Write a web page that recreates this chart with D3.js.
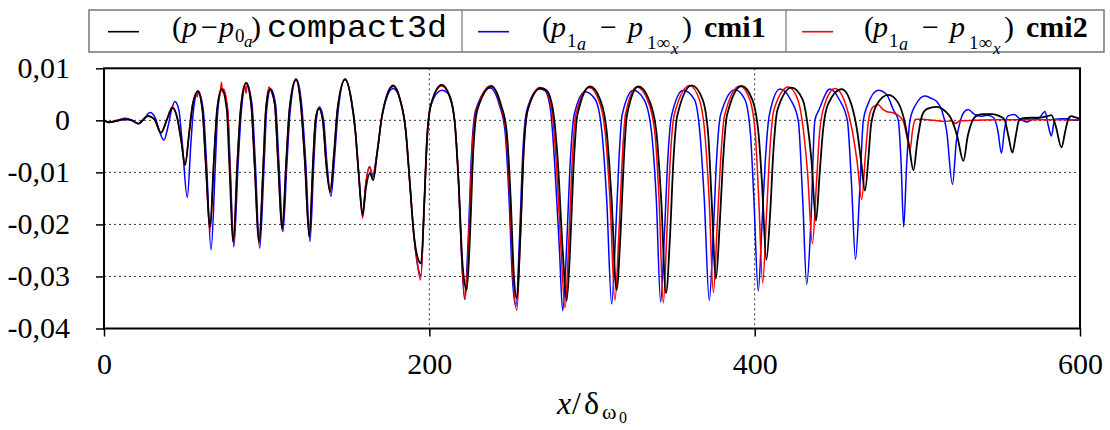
<!DOCTYPE html>
<html>
<head>
<meta charset="utf-8">
<script src="https://cdn.jsdelivr.net/npm/d3@7"></script>
<style>
  html, body { margin: 0; padding: 0; background: #fff; }
  svg { display: block; }
  .serif { font-family: "Liberation Serif", "Times New Roman", Times, "DejaVu Serif", serif; }
  .mono { font-family: "Liberation Mono", "Courier New", Courier, "DejaVu Sans Mono", monospace; }
</style>
</head>
<body>
<svg id="chart" width="1110" height="430"></svg>
<script>
// ---------------- data ----------------
const xTickValues = [0, 200, 400, 600];
const xTickLabels = ["0", "200", "400", "600"];
const yTickValues = [0.01, 0, -0.01, -0.02, -0.03, -0.04];
const yTickLabels = ["0,01", "0", "-0,01", "-0,02", "-0,03", "-0,04"];
const xGridValues = [200, 400];
const yGridValues = [0, -0.01, -0.02, -0.03];

// (p - p0a) compact3d  (black)
const compact3d = [
  [0,0],[3,-0.0004],[8,-0.0001],[13,0.0002],[17,0.0],[21,-0.0006],[27,0.0008],[31,0.0002],
  [35,-0.0024],[38.5,0.0],[42,0.0024],[45,0.0005],[47.5,-0.004],[49.8,-0.0086],[52.5,-0.002],
  [54.5,0.003],[57.6,0.0055],[60.5,0.002],[62.5,-0.008],[65.2,-0.0205],[67.5,-0.008],[69.5,0.002],
  [72.3,0.006],[75.5,0.002],[77,-0.008],[79.5,-0.0233],[82,-0.008],[84,0.002],[87.3,0.0072],
  [90.5,0.003],[92.5,-0.008],[95.3,-0.0233],[98,-0.008],[99.5,0.002],[102,0.006],[105,0.003],
  [107,-0.008],[109.6,-0.0208],[112,-0.008],[114,0.002],[118,0.0079],[121,0.003],[123.5,-0.008],
  [126.2,-0.0224],[128.5,-0.008],[130,0.0],[132.1,0.0023],[134.5,0.0],[136.5,-0.008],[139,-0.0138],
  [141.5,-0.006],[143.5,0.002],[148.2,0.0079],[152,0.004],[154.5,-0.002],[156.5,-0.01],[159,-0.0182],
  [161,-0.013],[163.5,-0.0102],[165.5,-0.0115],[168,-0.006],[171,0.001],[177.8,0.0066],[182,0.004],
  [185.5,-0.002],[188,-0.012],[190.5,-0.022],[192.2,-0.0256],[194.9,-0.0275],[197,-0.015],[198.5,-0.004],
  [201,0.003],[207.6,0.0068],[212,0.005],[215.5,0.0],[218,-0.012],[220.5,-0.028],[223,-0.0326],
  [225,-0.022],[227,-0.006],[229.5,0.002],[238.3,0.0065],[244,0.003],[247.5,-0.002],[250,-0.015],
  [252,-0.03],[253.7,-0.0342],[256,-0.022],[258,-0.006],[260.5,0.002],[268.5,0.0062],[272,0.0058],
  [276,0.002],[279,-0.008],[282,-0.025],[284.4,-0.0347],[286.5,-0.025],[288.5,-0.01],[291,0.001],
  [298.8,0.0065],[305,0.004],[309,-0.002],[312,-0.015],[315.1,-0.0326],[317.5,-0.022],[319.5,-0.008],
  [321.5,0.001],[328.5,0.0065],[335,0.004],[339.5,-0.002],[342.5,-0.015],[345.5,-0.0332],[348,-0.022],
  [350,-0.008],[352.5,0.001],[361.3,0.0067],[368,0.004],[371.5,-0.003],[373.5,-0.015],[376.2,-0.0304],
  [378.5,-0.02],[380.5,-0.008],[383,0.001],[392,0.0066],[398.5,0.004],[402.5,-0.003],[404.5,-0.012],
  [407.2,-0.0268],[409.5,-0.018],[411.5,-0.006],[414,0.002],[422.7,0.0063],[429.5,0.004],[433,-0.002],
  [435,-0.008],[437.7,-0.0193],[440,-0.01],[442,-0.002],[445,0.003],[453.5,0.006],[459.5,0.003],
  [463,-0.002],[465.5,-0.008],[467.8,-0.0135],[470,-0.007],[471.5,-0.001],[475,0.003],[482.2,0.0049],
  [488,0.0035],[492,0.0],[495,-0.005],[497.6,-0.0096],[500,-0.004],[503,0.001],[506,0.0022],
  [511.9,0.0026],[517,0.0018],[521,0.0002],[524.5,-0.003],[528.3,-0.0078],[531,-0.003],[534,0.0],
  [537,0.001],[540.6,0.0012],[546,0.0012],[550.5,0.0008],[553.5,0.0002],[556,-0.003],[558.4,-0.0062],
  [560.5,-0.003],[562.5,0.0],[565.1,0.0004],[570,0.0005],[575,0.0005],[580,0.0008],[582.4,0.001],
  [585,-0.001],[588.6,-0.0052],[591,-0.002],[593,0.0004],[594.7,0.0008],[597,0.0006],[600,0.0003]
];

// (p1a - p1inf x) cmi1  (blue)
const cmi1 = [
  [0,0],[3,-0.0003],[8,0.0],[13,0.0004],[17,0.0001],[21,-0.0007],[24.5,0.0002],[28.3,0.0015],
  [31.5,0.0005],[34,-0.002],[36.8,-0.0038],[39.5,-0.001],[41.5,0.002],[43.6,0.0036],[46,0.002],
  [48,-0.004],[51.2,-0.0148],[53.5,-0.004],[55,0.002],[57.8,0.0057],[61,0.002],[63,-0.008],
  [65.8,-0.0249],[68.5,-0.008],[70,0.002],[72.5,0.006],[76,0.002],[77.5,-0.008],[79.8,-0.0243],
  [82.5,-0.008],[84.5,0.002],[87.5,0.0072],[91,0.003],[93,-0.008],[95.7,-0.0246],[98.5,-0.008],
  [100,0.002],[102.5,0.006],[105.5,0.003],[107.5,-0.008],[110,-0.0214],[112.5,-0.008],[114.5,0.002],
  [118.3,0.0079],[121.5,0.003],[124,-0.008],[126.6,-0.0233],[129,-0.008],[130.5,0.0],[132.4,0.0026],
  [135,0.0],[137,-0.008],[139.5,-0.0146],[142,-0.006],[144,0.002],[148.2,0.0079],[152,0.004],
  [154.5,-0.002],[156.5,-0.01],[159,-0.0178],[161,-0.012],[163.3,-0.0089],[165.2,-0.0105],[168,-0.006],
  [171,0.001],[177.8,0.0061],[182,0.004],[185.5,-0.002],[188,-0.012],[190.5,-0.022],[193.5,-0.029],
  [194.8,-0.0298],[197,-0.015],[198.5,-0.004],[201,0.003],[207.6,0.0058],[212,0.005],[215.5,0.0],
  [218,-0.012],[219.8,-0.026],[221.7,-0.0344],[224,-0.022],[226,-0.006],[228.5,0.002],[237.5,0.0062],
  [243,0.003],[246.5,-0.002],[249,-0.015],[251,-0.03],[253.3,-0.0358],[255.5,-0.022],[257.5,-0.006],
  [260,0.002],[267.5,0.006],[271,0.0057],[274.5,0.002],[277,-0.008],[280,-0.025],[282,-0.0366],
  [284.3,-0.025],[286.3,-0.01],[289,0.001],[295.7,0.0055],[302,0.004],[306,-0.002],[309,-0.015],
  [312.1,-0.0353],[314.5,-0.022],[316.5,-0.008],[318.5,0.001],[325.4,0.0058],[332,0.004],
  [336.5,-0.002],[339.5,-0.015],[342.2,-0.0349],[344.5,-0.022],[346.5,-0.008],[349,0.001],
  [356.1,0.0058],[363,0.004],[366.5,-0.003],[369,-0.015],[372.1,-0.0346],[374.5,-0.022],[376.5,-0.008],
  [379,0.001],[387.9,0.0059],[394,0.004],[397.5,-0.003],[399.5,-0.015],[402.2,-0.0328],[404.5,-0.02],
  [406.5,-0.008],[409,0.001],[415.6,0.006],[422,0.004],[426.8,0.0],[429.5,-0.015],[432,-0.0315],
  [434.5,-0.02],[437,0.0],[439.5,0.002],[446.3,0.006],[452,0.004],[457,0.0],[459.5,-0.012],
  [462,-0.0267],[464.5,-0.014],[466.8,0.0],[469.5,0.003],[476,0.0058],[481,0.005],[485.3,0.002],
  [488.3,0.0],[490,-0.008],[491.6,-0.0205],[493.5,-0.008],[495.5,0.0],[499,0.003],[504.7,0.0047],
  [508,0.0043],[512,0.0036],[515,0.002],[518,-0.002],[521.6,-0.0123],[524,-0.004],[526.5,0.0],
  [528.5,0.0015],[531.2,0.0021],[535,0.0012],[539,0.0008],[543,0.001],[547,0.0005],[549.5,-0.002],
  [551.7,-0.0063],[553.5,-0.002],[555.5,0.0008],[559.5,0.0011],[563,0.0003],[567,-0.0003],
  [571,0.0002],[575,0.0005],[578.5,0.0017],[580.5,-0.001],[582.4,-0.003],[584.5,0.0002],[588,0.0003],
  [592,0.0003],[596,0.0],[600,0.0]
];

// (p1a - p1inf x) cmi2  (red)
const cmi2 = [
  [0,0],[3,-0.0004],[8,-0.0001],[13,0.0002],[17,0.0],[21,-0.0006],[27,0.0009],[31,0.0002],
  [35,-0.0024],[38.5,0.0],[42,0.0026],[45,0.0005],[47.5,-0.004],[49.8,-0.0084],[52.5,-0.002],
  [54.5,0.003],[56.8,0.005],[57.3,0.0045],[58,0.0055],[60.5,0.002],[62.5,-0.008],[65.2,-0.0215],
  [67.5,-0.008],[69.5,0.002],[71.6,0.0056],[72.2,0.0073],[72.8,0.0054],[73.5,0.006],[76,0.002],
  [77.3,-0.008],[79.7,-0.0238],[82,-0.008],[84,0.002],[86.5,0.0068],[87.3,0.0052],[88,0.0068],
  [90.5,0.003],[92.5,-0.008],[95.3,-0.0238],[98,-0.008],[99.5,0.002],[101.5,0.0064],[102.5,0.0058],
  [105,0.003],[107,-0.008],[109.6,-0.0213],[112,-0.008],[114,0.002],[118,0.0077],[121,0.003],
  [123.5,-0.008],[126.2,-0.0222],[128.5,-0.008],[130,0.0],[132.1,0.0023],[134.5,0.0],[136.5,-0.008],
  [139,-0.0136],[141.5,-0.006],[143.5,0.002],[148.2,0.0078],[152,0.004],[154.5,-0.002],[156.5,-0.01],
  [159,-0.0188],[161,-0.012],[163.2,-0.0089],[165.2,-0.011],[168,-0.006],[171,0.001],[177.8,0.0068],
  [182,0.004],[185.5,-0.002],[188,-0.012],[190.5,-0.022],[192.5,-0.027],[194.6,-0.0307],[196.8,-0.017],
  [198.5,-0.004],[201,0.003],[207.6,0.0066],[212,0.005],[215.5,0.0],[218,-0.012],[220,-0.027],
  [222,-0.0344],[224.3,-0.022],[226.3,-0.006],[229,0.002],[238,0.0067],[243.5,0.003],[247,-0.002],
  [249.5,-0.015],[251.5,-0.03],[253.8,-0.0365],[256,-0.022],[258,-0.006],[260.5,0.002],[268,0.0063],
  [271.5,0.0058],[275.3,0.002],[278,-0.008],[281,-0.025],[283.4,-0.036],[285.5,-0.025],[287.5,-0.01],
  [290,0.001],[298.3,0.0063],[304,0.004],[308,-0.002],[311,-0.015],[314.1,-0.0346],[316.5,-0.022],
  [318.5,-0.008],[320.5,0.001],[327.5,0.0064],[334,0.004],[338.5,-0.002],[341.2,-0.015],[343.8,-0.0351],
  [346,-0.022],[348,-0.008],[350.5,0.001],[360,0.0067],[366,0.004],[369.5,-0.003],[372,-0.015],
  [374.6,-0.0331],[377,-0.02],[379,-0.008],[381.5,0.001],[390.9,0.0066],[397,0.004],[400.5,-0.003],
  [402.5,-0.015],[404.9,-0.0313],[407.3,-0.018],[409.3,-0.006],[411.8,0.002],[420.7,0.0064],
  [426.5,0.004],[430,-0.002],[432.5,-0.01],[435.5,-0.0237],[438,-0.012],[440,-0.002],[443,0.003],
  [449.4,0.0061],[456,0.003],[460,-0.002],[463,-0.008],[465.8,-0.0152],[468,-0.007],[470,0.0],
  [472.5,0.0025],[476,0.003],[478.5,0.0022],[481,0.0017],[485.3,0.0014],[489.3,0.0007],[492,-0.0008],
  [493.5,-0.003],[495.5,-0.0057],[497,-0.002],[499,0.0002],[503,0.0002],[510,0.0],[517,-0.0002],
  [521,-0.0001],[523.5,-0.0006],[526,-0.0001],[535,0.0],[550,0.0001],[570,0.0001],[585,0.0001],[600,0.0001]
];

// ---------------- drawing ----------------
const svg = d3.select("#chart");

const x = d3.scaleLinear().domain([0, 600]).range([104, 1080]);
const y = d3.scaleLinear().domain([-0.04, 0.01]).range([328.5, 68.3]);

// grid
svg.append("g").selectAll("line").data(yGridValues).join("line")
  .attr("x1", x(0)).attr("x2", x(600))
  .attr("y1", d => y(d)).attr("y2", d => y(d))
  .attr("stroke", "#333").attr("stroke-width", 1).attr("stroke-dasharray", "2,3");
svg.append("g").selectAll("line").data(xGridValues).join("line")
  .attr("y1", y(0.01)).attr("y2", y(-0.04))
  .attr("x1", d => x(d)).attr("x2", d => x(d))
  .attr("stroke", "#333").attr("stroke-width", 1).attr("stroke-dasharray", "2,3");

// axes
const yAxis = d3.axisLeft(y).tickValues(yTickValues).tickSizeInner(8).tickSizeOuter(0)
  .tickPadding(26).tickFormat((d, i) => yTickLabels[i]);
const gy = svg.append("g").attr("transform", `translate(${x(0)},0)`).call(yAxis)
  .attr("font-family", null).attr("font-size", null).attr("class", "serif");
gy.select(".domain").remove();
gy.selectAll(".tick line").attr("stroke", "#000").attr("stroke-width", 1.5);
gy.selectAll(".tick text").style("font-size", "30px").attr("fill", "#000").attr("dy", "0.3em");

const xAxis = d3.axisBottom(x).tickValues(xTickValues).tickSizeInner(8).tickSizeOuter(0)
  .tickPadding(16).tickFormat((d, i) => xTickLabels[i]);
const gx = svg.append("g").attr("transform", `translate(0,${y(-0.04)})`).call(xAxis)
  .attr("font-family", null).attr("font-size", null).attr("class", "serif");
gx.select(".domain").remove();
gx.selectAll(".tick line").attr("stroke", "#000").attr("stroke-width", 1.5);
gx.selectAll(".tick text").style("font-size", "30px").attr("fill", "#000");

// curves
const line = d3.line().x(d => x(d[0])).y(d => y(d[1])).curve(d3.curveMonotoneX);
const g = svg.append("g");
g.append("path").datum(cmi1).attr("d", line).attr("fill", "none")
  .attr("stroke", "#0000ff").attr("stroke-width", 1.5);
g.append("path").datum(cmi2).attr("d", line).attr("fill", "none")
  .attr("stroke", "#ff0000").attr("stroke-width", 1.5);
g.append("path").datum(compact3d).attr("d", line).attr("fill", "none")
  .attr("stroke", "#000").attr("stroke-width", 1.8);

// frame
svg.append("rect").attr("x", x(0)).attr("y", y(0.01))
  .attr("width", x(600) - x(0)).attr("height", y(-0.04) - y(0.01))
  .attr("fill", "none").attr("stroke", "#000").attr("stroke-width", 2);

// axis title x/δω0
const xt = svg.append("text").attr("class", "serif").attr("fill", "#000").style("font-size", "32px");
xt.append("tspan").attr("x", 557).attr("y", 414).style("font-style", "italic").text("x");
xt.append("tspan").attr("x", 572).attr("y", 414).text("/");
xt.append("tspan").attr("x", 584).attr("y", 414).text("δ");
xt.append("tspan").attr("x", 602).attr("y", 419).style("font-size", "22px").text("ω");
xt.append("tspan").attr("x", 619).attr("y", 423).style("font-size", "16px").text("0");

// legend
const leg = svg.append("g");
leg.append("rect").attr("x", 89).attr("y", 10).attr("width", 1015).attr("height", 42)
  .attr("fill", "#fff").attr("stroke", "#777").attr("stroke-width", 1.5);
[462, 786].forEach(px => leg.append("line").attr("x1", px).attr("x2", px).attr("y1", 10).attr("y2", 52)
  .attr("stroke", "#777").attr("stroke-width", 1.2));

const legendColors = ["#000", "#0000ff", "#ff0000"];
const legendLineX = [108, 478, 802];
legendColors.forEach((c, i) => leg.append("line")
  .attr("x1", legendLineX[i]).attr("x2", legendLineX[i] + 31).attr("y1", 31.7).attr("y2", 31.7)
  .attr("stroke", c).attr("stroke-width", 1.6));

// entry 1
const t1 = leg.append("text").attr("class", "serif").style("font-size", "30px").attr("fill", "#000");
t1.append("tspan").attr("x", 172).attr("y", 37).text("(");
t1.append("tspan").attr("x", 182).attr("y", 37).style("font-style", "italic").text("p");
t1.append("tspan").attr("x", 201).attr("y", 37).text("−");
t1.append("tspan").attr("x", 219).attr("y", 37).style("font-style", "italic").text("p");
t1.append("tspan").attr("x", 235).attr("y", 42).style("font-size", "19px").text("0");
t1.append("tspan").attr("x", 244).attr("y", 47).style("font-size", "17px").style("font-style", "italic").text("a");
t1.append("tspan").attr("x", 251).attr("y", 37).text(")");
leg.append("text").attr("x", 267).attr("y", 37).attr("class", "mono").style("font-size", "32px")
  .attr("textLength", 180).attr("lengthAdjust", "spacingAndGlyphs")
  .attr("fill", "#000").text("compact3d");

// entries 2 & 3
const names = ["cmi1", "cmi2"];
[0, 322].forEach((off, i) => {
  const t = leg.append("text").attr("class", "serif").style("font-size", "30px").attr("fill", "#000");
  t.append("tspan").attr("x", 542 + off).attr("y", 37).text("(");
  t.append("tspan").attr("x", 551 + off).attr("y", 37).style("font-style", "italic").text("p");
  t.append("tspan").attr("x", 567 + off).attr("y", 47).style("font-size", "19px").text("1");
  t.append("tspan").attr("x", 577 + off).attr("y", 50).style("font-size", "18px").style("font-style", "italic").text("a");
  t.append("tspan").attr("x", 600 + off).attr("y", 37).text("−");
  t.append("tspan").attr("x", 628 + off).attr("y", 37).style("font-style", "italic").text("p");
  t.append("tspan").attr("x", 647 + off).attr("y", 49).style("font-size", "19px").text("1∞");
  t.append("tspan").attr("x", 671 + off).attr("y", 54).style("font-size", "17px").style("font-style", "italic").text("x");
  t.append("tspan").attr("x", 682 + off).attr("y", 37).text(")");
  t.append("tspan").attr("x", 704 + off).attr("y", 37).style("font-weight", "bold").text(names[i]);
});
</script>
</body>
</html>
